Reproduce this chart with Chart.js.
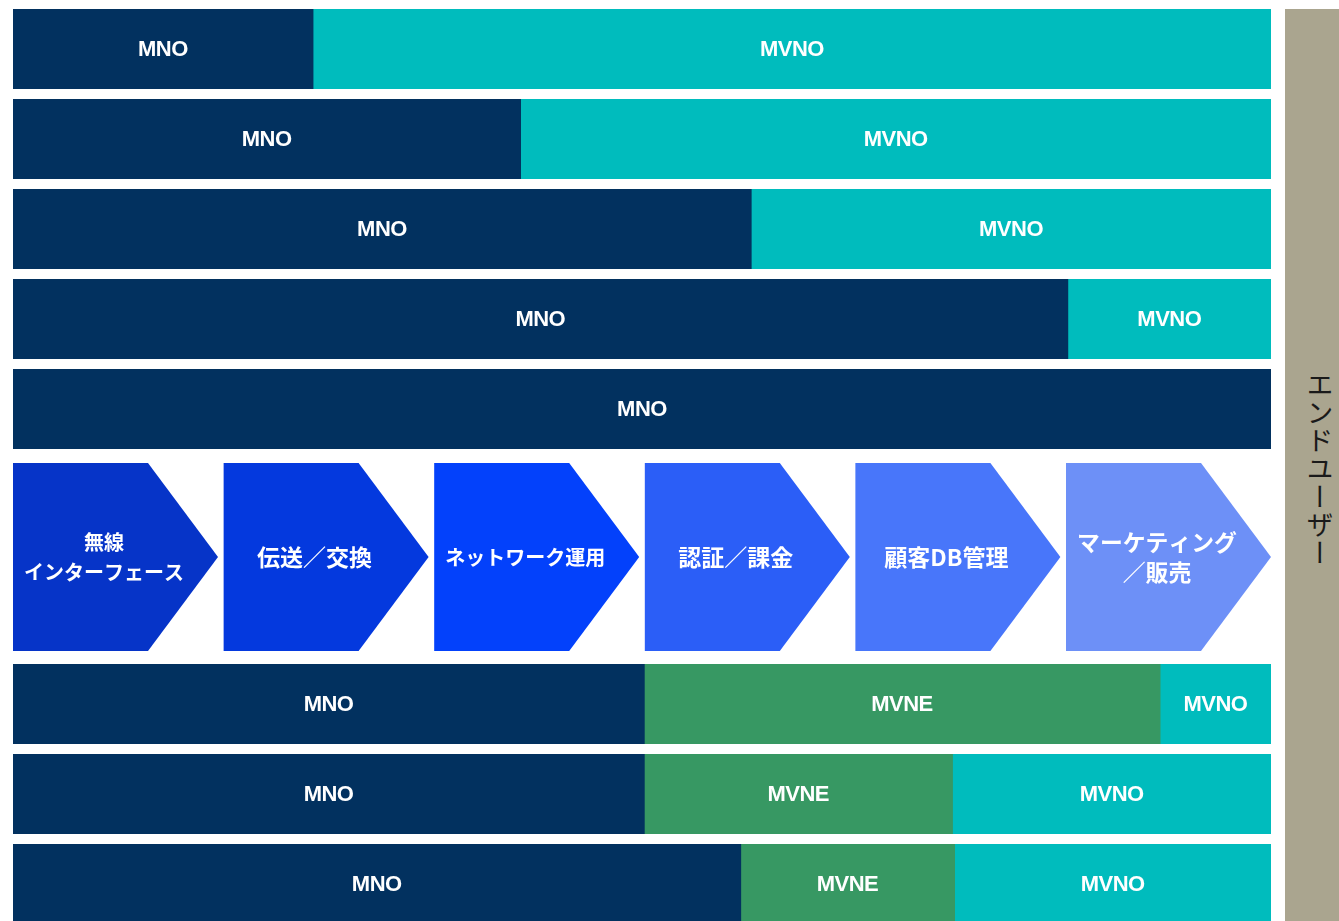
<!DOCTYPE html>
<html lang="ja">
<head>
<meta charset="utf-8">
<title>MNO / MVNE / MVNO</title>
<script src="https://cdn.jsdelivr.net/npm/chart.js@4/dist/chart.umd.min.js"></script>
<style>
  html, body { margin: 0; padding: 0; background: #ffffff; overflow: hidden; width: 1339px; height: 921px; }
  #topChart { position: absolute; left: 13px; top: 4px; }
  #bottomChart { position: absolute; left: 13px; top: 455px; }
  #endUser {
    position: absolute; left: 1285px; top: 9px; width: 70px; height: 920px;
    background: #aaa58f;
    display: flex; align-items: center; justify-content: center;
  }
  #endUser span {
    writing-mode: vertical-rl;
    font-family: "Noto Sans CJK JP", sans-serif;
    font-size: 27px; color: #1a1a1a; letter-spacing: 1px;
  }
</style>
</head>
<body>
<canvas id="topChart" width="1258" height="450"></canvas>
<canvas id="bottomChart" width="1258" height="474"></canvas>
<div id="endUser"><span>エンドユーザー</span></div>
<script>
// ---- data ----
const valueChainSteps = [
  ['無線', 'インターフェース'],
  ['伝送／交換'],
  ['ネットワーク運用'],
  ['認証／課金'],
  ['顧客DB管理'],
  ['マーケティング', '／販売']
];
const topRows = ['モデル1', 'モデル2', 'モデル3', 'モデル4', 'モデル5'];
const topMNO  = [1.43, 2.42, 3.52, 5.03, 6.00];
const topMVNO = [4.57, 3.58, 2.48, 0.97, 0.00];

const bottomRows = ['モデル6', 'モデル7', 'モデル8'];
const bottomMNO  = [3.01, 3.01, 3.47];
const bottomMVNE = [2.46, 1.47, 1.02];
const bottomMVNO = [0.53, 1.52, 1.51];

// ---- styles ----
const COLORS = { MNO: '#02315f', MVNE: '#379863', MVNO: '#00bcbd' };
const CHEVRON_COLORS = ['#0634c8', '#0439de', '#0341fb', '#2b5ef7', '#4876fa', '#6d90f7'];

const segmentLabels = {
  id: 'segmentLabels',
  afterDatasetsDraw(chart) {
    const ctx = chart.ctx;
    ctx.save();
    ctx.fillStyle = '#ffffff';
    ctx.font = 'bold 22px "Liberation Sans", Arial, sans-serif';
    if ('letterSpacing' in ctx) ctx.letterSpacing = '-0.5px';
    ctx.textAlign = 'center';
    ctx.textBaseline = 'middle';
    chart.data.datasets.forEach((ds, di) => {
      const meta = chart.getDatasetMeta(di);
      meta.data.forEach((el, i) => {
        if (!ds.data[i]) return;
        const cx = (el.x + el.base) / 2;
        ctx.fillText(ds.label, cx, el.y + 1);
      });
    });
    ctx.restore();
  }
};

const chevrons = {
  id: 'chevrons',
  afterDraw(chart) {
    const ctx = chart.ctx;
    const xs = chart.scales.x;
    const x0 = xs.getPixelForValue(0);
    const W = xs.getPixelForValue(valueChainSteps.length) - x0;
    const w = 205, flat = 135;
    const step = (W - w) / (valueChainSteps.length - 1);
    const top = chart.chartArea.top - 196, bottom = chart.chartArea.top - 8;
    const mid = (top + bottom) / 2;
    ctx.save();
    valueChainSteps.forEach((lines, i) => {
      const l = x0 + i * step;
      ctx.beginPath();
      ctx.moveTo(l, top);
      ctx.lineTo(l + flat, top);
      ctx.lineTo(l + w, mid);
      ctx.lineTo(l + flat, bottom);
      ctx.lineTo(l, bottom);
      ctx.closePath();
      ctx.fillStyle = CHEVRON_COLORS[i];
      ctx.fill();

      // text
      ctx.fillStyle = '#ffffff';
      ctx.textAlign = 'center';
      ctx.textBaseline = 'middle';
      let size = 23;
      const maxW = 160;
      ctx.font = `bold ${size}px "Noto Sans CJK JP", sans-serif`;
      const widest = Math.max(...lines.map(t => ctx.measureText(t).width));
      if (widest > maxW) size = size * maxW / widest;
      ctx.font = `bold ${size}px "Noto Sans CJK JP", sans-serif`;
      const cx = l + 91;
      const lh = 30;
      lines.forEach((t, k) => {
        const y = mid + (k - (lines.length - 1) / 2) * lh;
        ctx.fillText(t, cx, y);
      });
    });
    ctx.restore();
  }
};

function barOptions(extraTop) {
  return {
    indexAxis: 'y',
    responsive: false,
    animation: false,
    devicePixelRatio: 1,
    layout: { padding: { top: extraTop, left: 0, right: 0, bottom: 0 } },
    plugins: { legend: { display: false }, tooltip: { enabled: false } },
    datasets: { bar: { categoryPercentage: 1.0, barPercentage: 79 / 90, borderWidth: 0, inflateAmount: 0.6 } },
    scales: {
      x: { stacked: true, min: 0, max: valueChainSteps.length, display: false },
      y: { stacked: true, display: false }
    }
  };
}

new Chart(document.getElementById('topChart'), {
  type: 'bar',
  data: {
    labels: topRows,
    datasets: [
      { label: 'MNO',  data: topMNO,  backgroundColor: COLORS.MNO },
      { label: 'MVNO', data: topMVNO, backgroundColor: COLORS.MVNO }
    ]
  },
  options: barOptions(0),
  plugins: [segmentLabels]
});

new Chart(document.getElementById('bottomChart'), {
  type: 'bar',
  data: {
    labels: bottomRows,
    datasets: [
      { label: 'MNO',  data: bottomMNO,  backgroundColor: COLORS.MNO },
      { label: 'MVNE', data: bottomMVNE, backgroundColor: COLORS.MVNE },
      { label: 'MVNO', data: bottomMVNO, backgroundColor: COLORS.MVNO }
    ]
  },
  options: barOptions(204),
  plugins: [segmentLabels, chevrons]
});
</script>
</body>
</html>
